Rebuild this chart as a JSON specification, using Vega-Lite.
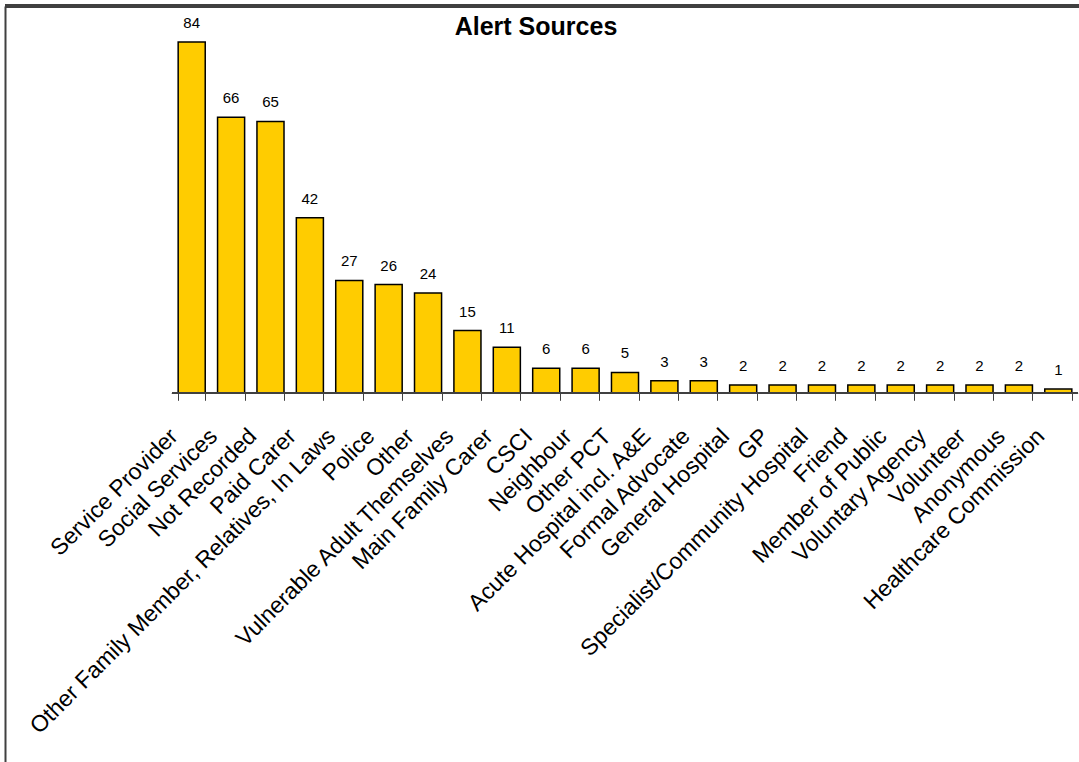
{
  "$schema": "https://vega.github.io/schema/vega-lite/v6.json",
  "width": 1074,
  "height": 756,
  "autosize": {"type": "none"},
  "padding": {"left": 5, "top": 6, "right": 0, "bottom": 0},
  "background": "white",
  "title": {
    "text": "Alert Sources",
    "font": "Liberation Sans",
    "fontSize": 25,
    "fontWeight": "bold",
    "color": "black",
    "anchor": "middle",
    "frame": "group",
    "offset": -35,
    "dx": -6
  },
  "config": {
    "view": {"stroke": null},
    "font": "Liberation Sans"
  },
  "data": {
    "values": [
      {"Source": "Service Provider", "Count": 84},
      {"Source": "Social Services", "Count": 66},
      {"Source": "Not Recorded", "Count": 65},
      {"Source": "Paid Carer", "Count": 42},
      {"Source": "Other Family Member, Relatives, In Laws", "Count": 27},
      {"Source": "Police", "Count": 26},
      {"Source": "Other", "Count": 24},
      {"Source": "Vulnerable Adult Themselves", "Count": 15},
      {"Source": "Main Family Carer", "Count": 11},
      {"Source": "CSCI", "Count": 6},
      {"Source": "Neighbour", "Count": 6},
      {"Source": "Other PCT", "Count": 5},
      {"Source": "Acute Hospital incl. A&E", "Count": 3},
      {"Source": "Formal Advocate", "Count": 3},
      {"Source": "General Hospital", "Count": 2},
      {"Source": "GP", "Count": 2},
      {"Source": "Specialist/Community Hospital", "Count": 2},
      {"Source": "Friend", "Count": 2},
      {"Source": "Member of Public", "Count": 2},
      {"Source": "Voluntary Agency", "Count": 2},
      {"Source": "Volunteer", "Count": 2},
      {"Source": "Anonymous", "Count": 2},
      {"Source": "Healthcare Commission", "Count": 1}
    ]
  },
  "encoding": {
    "x": {
      "field": "Source",
      "type": "nominal",
      "sort": null,
      "scale": {"range": [167, 1073], "paddingInner": 0.313, "paddingOuter": 0.1565},
      "axis": {
        "orient": "bottom",
        "offset": -368.7,
        "title": null,
        "domain": false,
        "ticks": true,
        "tickBand": "extent",
        "tickSize": 7,
        "tickColor": "#404040",
        "tickWidth": 1,
        "labelAngle": -45,
        "labelAlign": "right",
        "labelBaseline": "middle",
        "labelFont": "Liberation Sans",
        "labelFontSize": 23,
        "labelColor": "black",
        "labelPadding": 32,
        "labelOffset": -18,
        "labelLimit": 0,
        "labelOverlap": false,
        "labelBound": false,
        "labelFlush": false,
        "grid": false
      }
    },
    "y": {
      "field": "Count",
      "type": "quantitative",
      "scale": {"domain": [-88.16, 92.61], "nice": false, "zero": false},
      "axis": {
        "orient": "left",
        "title": null,
        "labels": false,
        "ticks": false,
        "domain": true,
        "domainColor": "#404040",
        "domainWidth": 2,
        "grid": false
      }
    }
  },
  "layer": [
    {
      "mark": {"type": "rule", "color": "#404040", "strokeWidth": 3},
      "encoding": {
        "x": null,
        "y": {"datum": 92.61, "type": "quantitative"}
      }
    },
    {
      "mark": {"type": "bar", "color": "#FFCC00", "stroke": "black", "strokeWidth": 1.5}
    },
    {
      "mark": {"type": "text", "font": "Liberation Sans", "fontSize": 15, "color": "black", "baseline": "alphabetic", "dy": -14},
      "encoding": {"text": {"field": "Count", "type": "quantitative"}}
    },
    {
      "mark": {"type": "rule", "color": "#404040", "strokeWidth": 1.5},
      "encoding": {
        "x": {"datum": "Service Provider", "type": "nominal", "bandPosition": -0.228},
        "x2": {"datum": "Healthcare Commission", "bandPosition": 1.228},
        "y": {"datum": 0, "type": "quantitative"}
      }
    }
  ]
}
